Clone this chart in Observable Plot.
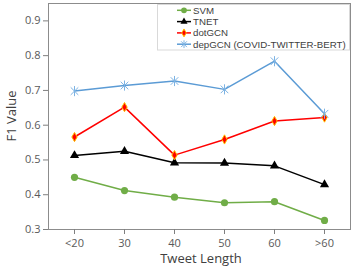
<!DOCTYPE html>
<html>
<head>
<meta charset="utf-8">
<script src="https://cdn.jsdelivr.net/npm/d3@7"></script>
<script src="https://cdn.jsdelivr.net/npm/@observablehq/plot@0.6"></script>
<style>
html,body{margin:0;padding:0;background:#fff;}
#chart svg{display:block;font-family:"Open Sans",sans-serif;}
</style>
</head>
<body>
<div id="chart"></div>
<script>
const categories = ["<20", "30", "40", "50", "60", ">60"];
const seriesNames = ["SVM", "TNET", "dotGCN", "depGCN (COVID-TWITTER-BERT)"];
const svm    = [0.450, 0.412, 0.393, 0.377, 0.380, 0.326];
const tnet   = [0.513, 0.525, 0.492, 0.491, 0.483, 0.429];
const dotgcn = [0.566, 0.652, 0.514, 0.559, 0.612, 0.622];
const depgcn = [0.698, 0.714, 0.727, 0.703, 0.784, 0.633];
const yTicks = [0.3, 0.4, 0.5, 0.6, 0.7, 0.8, 0.9];

const values = [svm, tnet, dotgcn, depgcn];
const data = [];
seriesNames.forEach((s, i) => categories.forEach((c, j) => data.push({series: s, cat: c, value: values[i][j]})));

const starSymbol = {
  draw(ctx, size) {
    const r = Math.sqrt(size) * 0.55;
    const d = r * 0.75;
    ctx.moveTo(0, -r); ctx.lineTo(0, r);
    ctx.moveTo(-d, -d); ctx.lineTo(d, d);
    ctx.moveTo(-d, d); ctx.lineTo(d, -d);
  }
};

const styles = [
  {line: "#70AD47", fill: "#70AD47", stroke: "none", symbol: "circle", r: 3.6, sw: 1.5},
  {line: "#000000", fill: "#000000", stroke: "none", symbol: "triangle", r: 3.4, sw: 1.5},
  {line: "#FF0000", fill: "#FF0000", stroke: "#FFC000", symbol: "diamond", r: 2.8, sw: 1.5},
  {line: "#5B9BD5", fill: "none", stroke: "#7DB3E3", symbol: starSymbol, r: 5.2, sw: 1.5}
];

const marks = [
  Plot.frame({stroke: "#8c8c8c", strokeWidth: 1}),
  Plot.axisY(yTicks, {tickFormat: d3.format(".1f"), tickSize: 5, tickPadding: 3, fontSize: 11, color: "#595959", stroke: "#7f7f7f", label: null}),
  Plot.axisX({tickSize: 5, tickPadding: 5, fontSize: 11, color: "#595959", stroke: "#7f7f7f", label: null})
];
seriesNames.forEach((s, i) => {
  const st = styles[i];
  const d = data.filter(e => e.series === s);
  marks.push(Plot.line(d, {x: "cat", y: "value", stroke: st.line, strokeWidth: st.sw}));
});
seriesNames.forEach((s, i) => {
  const st = styles[i];
  const d = data.filter(e => e.series === s);
  marks.push(Plot.dot(d, {x: "cat", y: "value", symbol: st.symbol, r: st.r, fill: st.fill, stroke: st.stroke, strokeWidth: 1}));
});

const chart = Plot.plot({
  width: 354,
  height: 271,
  marginLeft: 48,
  marginRight: 4,
  marginTop: 3,
  marginBottom: 42,
  style: {fontFamily: "Open Sans, sans-serif", background: "#fff"},
  x: {type: "point", domain: categories, padding: 0.5},
  y: {domain: [0.3, 0.95]},
  marks
});
document.getElementById("chart").append(chart);

const svg = d3.select(chart);
svg.append("text").attr("x", 201).attr("y", 263).attr("text-anchor", "middle")
  .attr("font-size", 13).attr("fill", "#404040").text("Tweet Length");
svg.append("text").attr("transform", "translate(16,116) rotate(-90)").attr("text-anchor", "middle")
  .attr("font-size", 13).attr("fill", "#404040").text("F1 Value");

const lg = svg.append("g").attr("text-anchor", "start");
lg.append("rect").attr("x", 157.5).attr("y", 4.5).attr("width", 192).attr("height", 45.5)
  .attr("fill", "#fff").attr("stroke", "#d9d9d9");
const legendPaths = [
  d3.symbol(d3.symbolCircle, 26)(),
  d3.symbol(d3.symbolTriangle, 22)(),
  d3.symbol(d3.symbolDiamond, 18)(),
  d3.symbol(starSymbol, 50)()
];
seriesNames.forEach((s, i) => {
  const st = styles[i];
  const y = 10.3 + i * 11.3;
  lg.append("line").attr("x1", 177).attr("x2", 191).attr("y1", y).attr("y2", y)
    .attr("stroke", st.line).attr("stroke-width", 1.5);
  lg.append("path").attr("d", legendPaths[i]).attr("transform", `translate(184,${y})`)
    .attr("fill", st.fill).attr("stroke", st.stroke).attr("stroke-width", 1);
  lg.append("text").attr("x", 193).attr("y", y).attr("dy", "0.35em").attr("text-anchor", "start")
    .attr("font-family", "Liberation Sans, Arial, sans-serif")
    .attr("font-size", 9.7).attr("fill", "#404040").text(s);
});
</script>
</body>
</html>
